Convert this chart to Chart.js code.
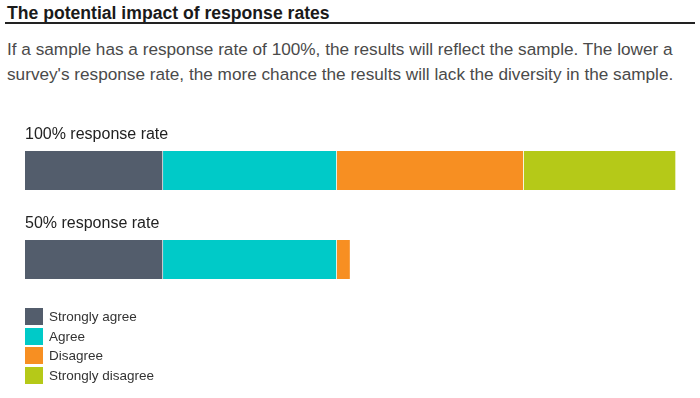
<!DOCTYPE html>
<html>
<head>
<meta charset="utf-8">
<script src="https://cdn.jsdelivr.net/npm/chart.js@4"></script>
<style>
  body { margin: 0; background: #fff; font-family: "Liberation Sans", Arial, sans-serif; }
  #wrap { position: relative; width: 700px; height: 398px; }
  #title { position: absolute; left: 7px; top: 3px; font-size: 17.6px; font-weight: bold; color: #1a1a1a; }
  #rule { position: absolute; left: 5px; right: 5px; top: 22px; height: 2px; background: #222; }
  #sub { position: absolute; left: 7px; top: 37px; width: 680px; font-size: 17.2px; line-height: 25px; color: #4a4a4a; }
  #box { position: absolute; left: 0; top: 100px; width: 700px; height: 220px; }
  #legend { position: absolute; left: 25px; top: 307px; font-size: 13.5px; color: #333; }
  .item { height: 19.5px; display: flex; align-items: center; }
  .sw { width: 18px; height: 17px; margin-right: 6px; }
</style>
</head>
<body>
<div id="wrap">
  <div id="title">The potential impact of response rates</div>
  <div id="rule"></div>
  <div id="sub">If a sample has a response rate of 100%, the results will reflect the sample. The lower a survey's response rate, the more chance the results will lack the diversity in the sample.</div>
  <div id="box"><canvas id="chart" width="700" height="220"></canvas></div>
  <div id="legend"></div>
</div>
<script>
// Datos del gráfico
const categories = ["100% response rate", "50% response rate"];
const seriesNames = ["Strongly agree", "Agree", "Disagree", "Strongly disagree"];
const stronglyAgree = [21.2, 21.2];
const agree = [26.7, 26.7];
const disagree = [28.7, 2.1];
const stronglyDisagree = [23.4, null];
const colors = ["#535d6c", "#00cac8", "#f78f22", "#b5c918"];

const values = [stronglyAgree, agree, disagree, stronglyDisagree];

// Etiqueta de cada categoría encima de su barra
const barLabels = {
  id: "barLabels",
  afterDatasetsDraw(chart) {
    const {ctx} = chart;
    const meta = chart.getDatasetMeta(0);
    ctx.save();
    ctx.font = "16px 'Liberation Sans', Arial, sans-serif";
    ctx.fillStyle = "#222";
    ctx.textBaseline = "middle";
    ctx.textAlign = "left";
    categories.forEach((label, i) => {
      const bar = meta.data[i];
      const top = bar.y - bar.height / 2;
      ctx.fillText(label, chart.chartArea.left, top - 16);
    });
    ctx.restore();
  }
};

new Chart(document.getElementById("chart"), {
  type: "bar",
  data: {
    labels: categories,
    datasets: seriesNames.map((name, i) => ({
      label: name,
      data: values[i],
      backgroundColor: colors[i],
      borderColor: "rgba(255,255,255,0.35)",
      borderWidth: {left: 0, right: 1, top: 0, bottom: 0},
      barThickness: 39
    }))
  },
  options: {
    indexAxis: "y",
    responsive: false,
    animation: false,
    layout: {padding: {left: 25, right: 24, top: 26, bottom: 16}},
    scales: {
      x: {stacked: true, min: 0, max: 100, display: false},
      y: {stacked: true, display: false}
    },
    plugins: {legend: {display: false}, tooltip: {enabled: false}}
  },
  plugins: [barLabels]
});

// Leyenda en HTML a partir de los mismos arrays
const legend = document.getElementById("legend");
seriesNames.forEach((name, i) => {
  const row = document.createElement("div");
  row.className = "item";
  row.innerHTML = `<span class="sw" style="background:${colors[i]}"></span>${name}`;
  legend.appendChild(row);
});
</script>
</body>
</html>
